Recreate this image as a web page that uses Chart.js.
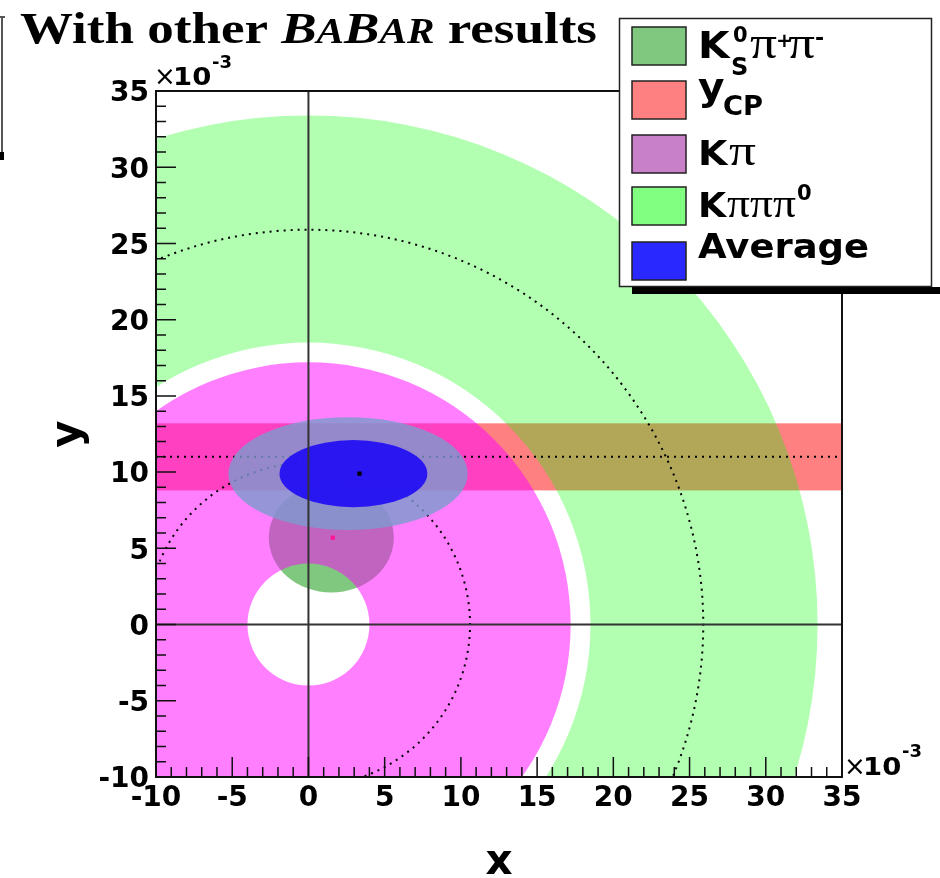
<!DOCTYPE html>
<html lang="en">
<head>
  <meta charset="UTF-8">
  <title>With other BaBar results</title>
  <script src="https://cdn.jsdelivr.net/npm/chart.js"></script>
  <style>
    body { margin: 0; background: #fff; }
    #wrap { width: 940px; height: 878px; }
  </style>
</head>
<body>
  <div id="wrap"><canvas id="mixChart"></canvas></div>

  <script>
    // axis ticks, in units of 1e-3
    const xTicks = [-10, -5, 0, 5, 10, 15, 20, 25, 30, 35];
    const yTicks = [-10, -5, 0, 5, 10, 15, 20, 25, 30, 35];
    const xTickLabels = ['-10', '-5', '0', '5', '10', '15', '20', '25', '30', '35'];
    const yTickLabels = ['-10', '-5', '0', '5', '10', '15', '20', '25', '30', '35'];

    // y_CP band and its central value
    const ycpBand = [8.8, 13.2];
    const ycpCentral = 11.0;

    // filled regions, in drawing order
    const regionNames = ['Kpipipi0', 'KSpipi', 'Kpi', 'Average (outer)', 'Average (inner)'];
    const regionCx = [0, 1.5, 0, 2.6, 2.95];
    const regionCy = [0, 5.7, 0, 9.9, 9.9];
    const regionRx = [33.4, 4.1, 17.2, 7.85, 4.85];
    const regionRy = [33.4, 3.6, 17.2, 3.7, 2.2];
    const regionHole = [18.5, 0, 4.0, 0, 0];

    // dotted central-value arcs (Kpi, Kpipipi0): radius and angle range in degrees
    const centralRadii = [10.6, 25.9];
    const centralArcFrom = [-75, -90];
    const centralArcTo = [157, 180];

    // central points
    const avgPoint = [{ x: 3.35, y: 9.9 }];
    const kspipiPoint = [{ x: 1.6, y: 5.7 }];

    const regionColors = ['rgba(0,255,0,0.3)', 'rgb(128,200,128)', 'rgba(255,0,255,0.5)',
                          'rgba(124,155,205,0.8)', 'rgba(30,10,245,0.9)'];
    const bandColor = 'rgb(255,128,128)';
    const legendColors = ['rgb(128,200,128)', 'rgb(255,128,128)', 'rgb(200,128,200)',
                          'rgb(128,255,128)', 'rgb(40,40,255)'];

    const sans = (n) => 'bold ' + n + 'px "DejaVu Sans"';
    const serif = (n) => n + 'px "Liberation Serif"';

    function txt(ctx, s, x, y, font, sx) {
      ctx.save();
      ctx.font = font;
      ctx.fillStyle = '#000';
      ctx.textBaseline = 'alphabetic';
      ctx.textAlign = 'left';
      ctx.translate(x, y);
      ctx.scale(sx || 1, 1);
      ctx.fillText(s, 0, 0);
      ctx.restore();
    }

    // text squeezed/stretched to a given advance width
    function txtW(ctx, s, x, y, font, w) {
      ctx.font = font;
      txt(ctx, s, x, y, font, w / ctx.measureText(s).width);
    }

    function ellipsePath(ctx, xs, ys, cx, cy, rx, ry) {
      const px = xs.getPixelForValue(cx);
      const py = ys.getPixelForValue(cy);
      const prx = Math.abs(xs.getPixelForValue(cx + rx) - px);
      const pry = Math.abs(ys.getPixelForValue(cy + ry) - py);
      ctx.moveTo(px + prx, py);
      ctx.ellipse(px, py, prx, pry, 0, 0, Math.PI * 2);
    }

    const regionsPlugin = {
      id: 'regions',
      beforeDatasetsDraw(chart) {
        const { ctx, chartArea: a, scales: { x, y } } = chart;
        ctx.save();
        ctx.beginPath();
        ctx.rect(a.left, a.top, a.right - a.left, a.bottom - a.top);
        ctx.clip();

        // y_CP band
        const yTop = y.getPixelForValue(ycpBand[1]);
        const yBot = y.getPixelForValue(ycpBand[0]);
        ctx.fillStyle = bandColor;
        ctx.fillRect(a.left, yTop, a.right - a.left, yBot - yTop);

        const dotted = () => {
          ctx.save();
          ctx.strokeStyle = '#000';
          ctx.lineWidth = 2;
          ctx.setLineDash([2, 5]);
          ctx.beginPath();
          const yc = y.getPixelForValue(ycpCentral);
          ctx.moveTo(a.left, yc);
          ctx.lineTo(a.right, yc);
          ctx.stroke();
          const ox = x.getPixelForValue(0), oy = y.getPixelForValue(0);
          centralRadii.forEach((r, i) => {
            const pr = Math.abs(x.getPixelForValue(r) - ox);
            ctx.beginPath();
            // canvas angles run clockwise, so negate
            ctx.arc(ox, oy, pr, -centralArcTo[i] * Math.PI / 180, -centralArcFrom[i] * Math.PI / 180);
            ctx.stroke();
          });
          ctx.restore();
        };

        regionNames.forEach((name, i) => {
          if (i === 3) dotted();
          ctx.beginPath();
          ellipsePath(ctx, x, y, regionCx[i], regionCy[i], regionRx[i], regionRy[i]);
          if (regionHole[i] > 0) {
            ellipsePath(ctx, x, y, regionCx[i], regionCy[i], regionHole[i], regionHole[i]);
          }
          ctx.fillStyle = regionColors[i];
          ctx.fill('evenodd');
        });
        ctx.restore();
      },
      afterDatasetsDraw(chart) {
        const { ctx, chartArea: a, scales: { x, y } } = chart;
        ctx.save();
        // zero lines
        ctx.strokeStyle = '#333';
        ctx.lineWidth = 2;
        ctx.beginPath();
        ctx.moveTo(x.getPixelForValue(0), a.top);
        ctx.lineTo(x.getPixelForValue(0), a.bottom);
        ctx.moveTo(a.left, y.getPixelForValue(0));
        ctx.lineTo(a.right, y.getPixelForValue(0));
        ctx.stroke();

        // inside ticks, minor every 1
        ctx.strokeStyle = '#111';
        ctx.lineWidth = 1.5;
        ctx.beginPath();
        for (let v = -10; v <= 35; v++) {
          const len = v % 5 === 0 ? 20 : 10;
          const px = x.getPixelForValue(v);
          ctx.moveTo(px, a.bottom);
          ctx.lineTo(px, a.bottom - len);
          const py = y.getPixelForValue(v);
          ctx.moveTo(a.left, py);
          ctx.lineTo(a.left + len, py);
        }
        ctx.stroke();

        // frame
        ctx.strokeStyle = '#111';
        ctx.lineWidth = 2;
        ctx.strokeRect(a.left, a.top, a.right - a.left, a.bottom - a.top);
        ctx.restore();
      },
      afterDraw(chart) {
        const { ctx } = chart;
        ctx.save();

        // exponent labels
        txt(ctx, '\u00d7', 154, 85, '26px "DejaVu Sans"');
        txt(ctx, '10', 173, 85, sans(25), 1.1);
        txt(ctx, '-3', 212, 68, sans(18));
        txt(ctx, '\u00d7', 844, 775, '26px "DejaVu Sans"');
        txt(ctx, '10', 863, 775, sans(25), 1.1);
        txt(ctx, '-3', 902, 757, sans(18));

        // title
        const parts = [
          ['With other ', 'bold ' + serif(45)],
          ['B', 'italic bold ' + serif(45)],
          ['A', 'italic bold ' + serif(35)],
          ['B', 'italic bold ' + serif(45)],
          ['AR', 'italic bold ' + serif(35)],
          [' results', 'bold ' + serif(45)]
        ];
        let total = 0;
        parts.forEach(p => { ctx.font = p[1]; total += ctx.measureText(p[0]).width; });
        const sx = 577 / total;
        let cx = 20;
        parts.forEach(p => {
          ctx.font = p[1];
          const w = ctx.measureText(p[0]).width;
          txt(ctx, p[0], cx, 43, p[1], sx);
          cx += w * sx;
        });

        // left edge remnant
        ctx.fillStyle = '#555';
        ctx.fillRect(1, 17, 2, 141);
        ctx.fillRect(0, 16, 5, 2);
        ctx.fillStyle = '#000';
        ctx.fillRect(0, 152, 4, 8);

        // legend box
        ctx.fillStyle = '#000';
        ctx.fillRect(632, 287, 308, 7);
        ctx.fillStyle = '#fff';
        ctx.fillRect(619, 18, 313, 269);
        ctx.strokeStyle = '#222';
        ctx.lineWidth = 1.5;
        ctx.strokeRect(619.5, 18.5, 312, 268);

        const rowTop = [27, 81, 135, 187, 242];
        rowTop.forEach((t, i) => {
          ctx.fillStyle = legendColors[i];
          ctx.fillRect(632, t, 54, 38);
          ctx.strokeStyle = '#222';
          ctx.lineWidth = 1.5;
          ctx.strokeRect(632, t, 54, 38);
        });

        txt(ctx, 'K', 698, 58, sans(37), 1.1);
        txt(ctx, '0', 733, 42, sans(21));
        txt(ctx, 'S', 731, 75, sans(24));
        txtW(ctx, '\u03c0', 750, 58, serif(46), 27);
        txt(ctx, '+', 776, 47, sans(20));
        txtW(ctx, '\u03c0', 788, 58, serif(46), 27);
        txt(ctx, '-', 815, 45, sans(22));

        txt(ctx, 'y', 698, 100, sans(37), 1.1);
        txt(ctx, 'CP', 723, 115, sans(26), 1.05);

        txt(ctx, 'K', 698, 165, sans(33), 1.15);
        txtW(ctx, '\u03c0', 729, 165, serif(44), 27);

        txt(ctx, 'K', 698, 217, sans(33), 1.1);
        txtW(ctx, '\u03c0', 727, 217, serif(42), 23);
        txtW(ctx, '\u03c0', 750, 217, serif(42), 23);
        txtW(ctx, '\u03c0', 773, 217, serif(42), 23);
        txt(ctx, '0', 797, 200, sans(21));

        txt(ctx, 'Average', 698, 258, sans(33), 1.12);
        ctx.restore();
      }
    };

    const tickFont = { family: 'DejaVu Sans', weight: 'bold', size: 28 };

    new Chart(document.getElementById('mixChart'), {
      type: 'scatter',
      data: {
        datasets: [
          { label: 'Average', data: avgPoint, pointStyle: 'rect', pointRadius: 3,
            backgroundColor: '#000', borderWidth: 0 },
          { label: 'KSpipi', data: kspipiPoint, pointStyle: 'rect', pointRadius: 3,
            backgroundColor: '#ff1493', borderWidth: 0 }
        ]
      },
      options: {
        responsive: true,
        maintainAspectRatio: false,
        animation: false,
        events: [],
        layout: { autoPadding: false, padding: { left: 0, right: 98, top: 91, bottom: 0 } },
        plugins: { legend: { display: false }, tooltip: { enabled: false } },
        scales: {
          x: {
            type: 'linear', min: -10, max: 35,
            afterBuildTicks: (s) => { s.ticks = xTicks.map(v => ({ value: v })); },
            afterFit: (s) => { s.height = 101; },
            grid: { display: false, drawTicks: false },
            border: { display: false },
            ticks: {
              font: tickFont, color: '#000', padding: 5, autoSkip: false, maxRotation: 0,
              callback: (v) => xTickLabels[xTicks.indexOf(v)]
            },
            title: { display: true, text: 'x', color: '#000',
                     font: { family: 'DejaVu Sans', weight: 'bold', size: 42, lineHeight: 0.8 },
                     padding: { top: 0, bottom: -2 } }
          },
          y: {
            type: 'linear', min: -10, max: 35,
            afterBuildTicks: (s) => { s.ticks = yTicks.map(v => ({ value: v })); },
            afterFit: (s) => { s.width = 156; },
            grid: { display: false, drawTicks: false },
            border: { display: false },
            ticks: {
              font: tickFont, color: '#000', padding: 7, autoSkip: false, labelOffset: 3,
              callback: (v) => yTickLabels[yTicks.indexOf(v)]
            },
            title: { display: true, text: 'y', color: '#000',
                     font: { family: 'DejaVu Sans', weight: 'bold', size: 42, lineHeight: 0.8 },
                     padding: { top: 52, bottom: 0 } }
          }
        }
      },
      plugins: [regionsPlugin]
    });
  </script>
</body>
</html>
